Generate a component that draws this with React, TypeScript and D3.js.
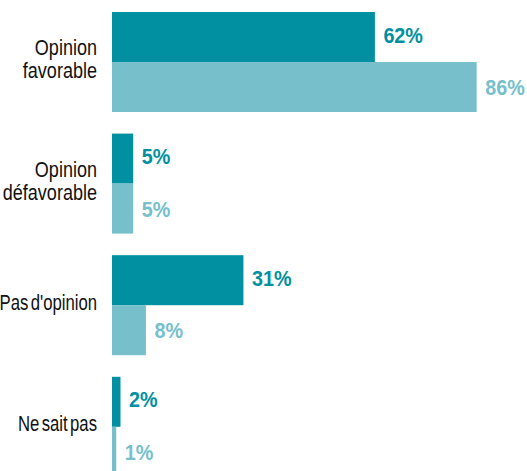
import * as d3 from "d3";

const categories = [
  ["Opinion", "favorable"],
  ["Opinion", "défavorable"],
  ["Pas d'opinion"],
  ["Ne sait pas"],
];
const seriesNames = ["a", "b"];
const seriesA = [62, 5, 31, 2];
const seriesB = [86, 5, 8, 1];
const colors = ["#0190a1", "#76bfcb"];

const WIDTH = 527;
const HEIGHT = 471;
const FONT = "'Liberation Sans', Arial, sans-serif";

export default function App() {
  const keys = categories.map((c) => c.join(" "));
  const values = [seriesA, seriesB];

  const y = d3
    .scaleBand<string>()
    .domain(keys)
    .range([12, 476.8])
    .paddingInner(0.1776)
    .paddingOuter(0);

  const ySub = d3
    .scaleBand<string>()
    .domain(seriesNames)
    .range([0, y.bandwidth()])
    .padding(0);

  const x = d3.scaleLinear().domain([0, 100]).range([112, 536]);

  // labels sit a touch below bar centre in the original
  const labelDy = [5.5, 8];

  return (
    <svg
      width={WIDTH}
      height={HEIGHT}
      style={{ position: "absolute", left: 0, top: 0, background: "#fff" }}
    >
      {keys.map((k, i) => {
        const top = y(k) ?? 0;
        const lines = categories[i];
        const mid = top + y.bandwidth() / 2 - 3.5;
        const lineH = 23;
        // condensed look: squeeze the regular face horizontally
        const sx = lines.length > 1 ? 0.82 : 0.76;
        return (
          <g key={k}>
            <text
              transform={`translate(97,0) scale(${sx},1)`}
              textAnchor="end"
              fontFamily={FONT}
              fontSize={22}
              wordSpacing={-3}
              fill="#111"
            >
              {lines.map((l, j) => (
                <tspan
                  key={j}
                  x={0}
                  y={mid + (j - (lines.length - 1) / 2) * lineH + 8}
                >
                  {l}
                </tspan>
              ))}
            </text>
            {seriesNames.map((s, si) => {
              const v = values[si][i];
              const by = top + (ySub(s) ?? 0);
              return (
                <g key={s}>
                  <rect
                    x={x(0)}
                    y={by}
                    width={x(v) - x(0)}
                    height={ySub.bandwidth()}
                    fill={colors[si]}
                  />
                  <text
                    transform={`translate(${x(v) + 8.5},${
                      by + ySub.bandwidth() / 2 + labelDy[si]
                    }) scale(0.92,1)`}
                    fontFamily={FONT}
                    fontWeight="bold"
                    fontSize={21.5}
                    fill={colors[si]}
                  >
                    {v}%
                  </text>
                </g>
              );
            })}
          </g>
        );
      })}
    </svg>
  );
}
